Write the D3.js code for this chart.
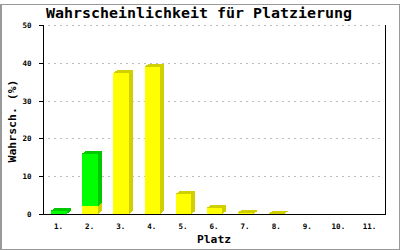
<!DOCTYPE html>
<html><head><meta charset="utf-8">
<script src="https://cdn.jsdelivr.net/npm/d3@7"></script>
<style>body{margin:0;background:#fff}svg{display:block}</style>
</head><body>
<script>
const categories = ["1.","2.","3.","4.","5.","6.","7.","8.","9.","10.","11."];
const yellowValues = [0, 2.1, 37.3, 38.9, 5.3, 1.6, 0.35, 0.1, 0, 0, 0];
const greenValues  = [0.9, 13.9, 0, 0, 0, 0, 0, 0, 0, 0, 0];
const yTicks = [0, 10, 20, 30, 40, 50];
const title = "Wahrscheinlichkeit für Platzierung";
const xTitle = "Platz";
const yTitle = "Wahrsch. (%)";

(function () {
const W = 400, H = 250;
const pLeft = 43, pRight = 385, pTop = 25, pBottom = 214;
const dx = 4, dy = 3;
const font = "'DejaVu Sans Mono', 'Liberation Mono', monospace";

const svg = d3.select("body").append("svg").attr("width", W).attr("height", H);

// frame
svg.append("rect").attr("x", 0).attr("y", 0).attr("width", W).attr("height", H).attr("fill", "#fff");
svg.append("path").attr("d", `M1,250 V4.5 H399.5 V249.5 H0`).attr("fill", "none")
  .attr("stroke", "#999").attr("stroke-width", 1).attr("shape-rendering", "crispEdges");
svg.append("line").attr("x1", 0.5).attr("x2", 0.5).attr("y1", 4).attr("y2", 250).attr("stroke", "#999").attr("stroke-width", 1);

const x = d3.scaleBand().domain(categories).range([pLeft, pRight]).padding(0);
const y = d3.scaleLinear().domain([0, 50]).range([pBottom, pTop]);

// grid
svg.append("g").selectAll("line").data(yTicks.filter(d => d > 0)).join("line")
  .attr("x1", 48).attr("x2", pRight - 3)
  .attr("y1", d => Math.round(y(d)) + 0.5).attr("y2", d => Math.round(y(d)) + 0.5)
  .attr("stroke", "#bbb").attr("stroke-dasharray", "2,4").attr("shape-rendering", "crispEdges");

// bars
const bw = x.step() * 0.5;
const segs = [];
categories.forEach((c, i) => {
  const yv = yellowValues[i], gv = greenValues[i];
  if (yv > 0) segs.push({c, y0: 0, y1: yv, front: "#ffff00", dark: "#d0d000"});
  if (gv > 0) segs.push({c, y0: yv, y1: yv + gv, front: "#00ff00", dark: "#00c800"});
});
const bars = svg.append("g");
segs.forEach(s => {
  const bx = x(s.c) + x.step() * 0.25 + 0.5;
  const yt = y(s.y1), yb = y(s.y0);
  const g = bars.append("g").attr("shape-rendering", "crispEdges");
  g.append("path").attr("d", `M${bx + bw},${yt} L${bx + bw + dx},${yt - dy} L${bx + bw + dx},${yb - dy} L${bx + bw},${yb} Z`).attr("fill", s.dark);
  g.append("path").attr("d", `M${bx},${yt} L${bx + dx},${yt - dy} L${bx + bw + dx},${yt - dy} L${bx + bw},${yt} Z`).attr("fill", s.dark);
  g.append("rect").attr("x", bx).attr("y", yt).attr("width", bw).attr("height", yb - yt).attr("fill", s.front);
});

// axes
const yAxis = d3.axisLeft(y).tickValues(yTicks).tickSize(5).tickPadding(3);
const ga = svg.append("g").attr("transform", `translate(${pLeft + 0.5},0)`).call(yAxis);
ga.select(".domain").remove();
ga.selectAll(".tick line").attr("stroke", "#000").attr("shape-rendering", "crispEdges");
ga.selectAll(".tick").attr("transform", d => `translate(0,${Math.round(y(d)) + 0.5})`);
ga.selectAll("text").attr("font-family", font).attr("font-size", 7.5).attr("font-weight", "bold").attr("fill", "#000").attr("dy", "0.3em").attr("x", -12);

const xAxis = d3.axisBottom(x).tickSize(0).tickPadding(9);
const gx = svg.append("g").attr("transform", `translate(0,${pBottom + 0.5})`).call(xAxis);
gx.select(".domain").remove();
gx.selectAll("text").attr("font-family", font).attr("font-size", 7.5).attr("font-weight", "bold").attr("fill", "#000");

// axis lines
svg.append("line").attr("x1", pLeft + 0.5).attr("x2", pLeft + 0.5).attr("y1", pTop).attr("y2", pBottom + 1).attr("stroke", "#000").attr("shape-rendering", "crispEdges");
svg.append("line").attr("x1", pRight + 0.5).attr("x2", pRight + 0.5).attr("y1", pTop).attr("y2", pBottom + 1).attr("stroke", "#000").attr("shape-rendering", "crispEdges");
svg.append("line").attr("x1", pLeft).attr("x2", pRight + 1).attr("y1", pBottom + 0.5).attr("y2", pBottom + 0.5).attr("stroke", "#000").attr("shape-rendering", "crispEdges");

// titles
svg.append("text").attr("x", 199).attr("y", 18).attr("text-anchor", "middle")
  .attr("font-family", font).attr("font-size", 14).attr("font-weight", "bold")
  .attr("textLength", 306).attr("lengthAdjust", "spacingAndGlyphs").text(title);
svg.append("text").attr("x", 214).attr("y", 243).attr("text-anchor", "middle")
  .attr("font-family", font).attr("font-size", 11).attr("font-weight", "bold")
  .attr("textLength", 34).attr("lengthAdjust", "spacingAndGlyphs").text(xTitle);
svg.append("text").attr("transform", "translate(16,121) rotate(-90)").attr("text-anchor", "middle")
  .attr("font-family", font).attr("font-size", 11).attr("font-weight", "bold")
  .attr("textLength", 83).attr("lengthAdjust", "spacingAndGlyphs").text(yTitle);
})();
</script>
</body></html>
